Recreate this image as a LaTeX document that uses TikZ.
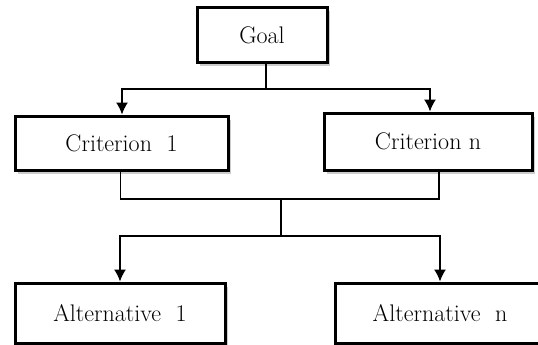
\documentclass[tikz,border=0pt]{standalone}
\usetikzlibrary{arrows.meta,shadows}
\begin{document}
\begin{tikzpicture}[x=1pt,y=-1pt,
  box/.style={draw=black,line width=3pt,fill=white,inner sep=0pt,
    font=\fontsize{24}{28}\selectfont,
    drop shadow={opacity=0.4,shadow xshift=2.5pt,shadow yshift=-3.5pt,fill=gray}},
  conn/.style={line width=1.4pt},
  arr/.style={conn,-{Latex[length=12pt,width=12pt]}}]
\useasboundingbox (0,0) rectangle (538,345);
\node[box,minimum width=130pt,minimum height=55pt] (goal) at (262,35.5) {Goal};
\node[box,minimum width=213pt,minimum height=54pt] (c1) at (121.5,143) {Criterion\ \ 1};
\node[box,minimum width=208pt,minimum height=57pt] (cn) at (428,141.5) {Criterion n};
\node[box,minimum width=210pt,minimum height=60pt] (a1) at (120,313) {Alternative\ \ 1};
\node[box,minimum width=210pt,minimum height=60pt] (an) at (440,313) {Alternative\ \ n};
\coordinate (j1) at (266,89);
\coordinate (j2) at (281,199);
\coordinate (j3) at (281,236);
\draw[conn] ([xshift=4pt]goal.south) -- (j1);
\draw[arr] (j1) -| ([xshift=0.5pt]c1.north);
\draw[arr] (j1) -| ([xshift=2pt]cn.north);
\draw[conn] ([xshift=-1pt]c1.south) |- (j2);
\draw[conn] ([xshift=11pt]cn.south) |- (j2);
\draw[conn] (j2) -- (j3);
\draw[arr] (j3) -| (a1.north);
\draw[arr] (j3) -| (an.north);
\end{tikzpicture}
\end{document}
